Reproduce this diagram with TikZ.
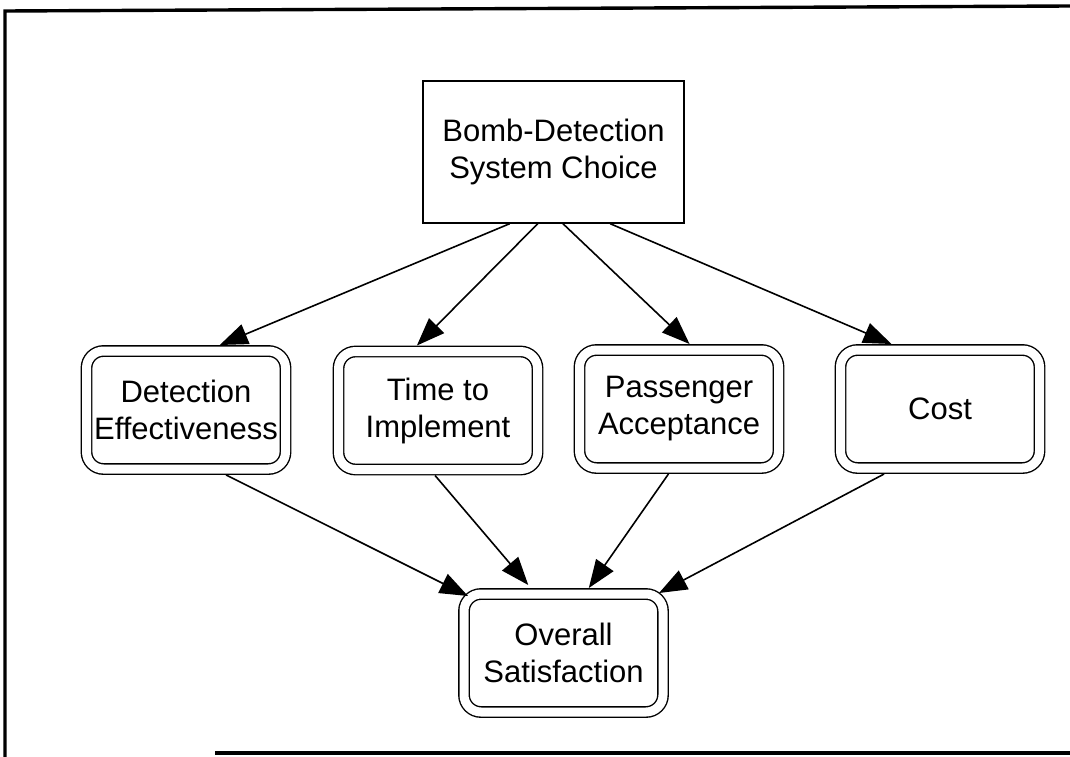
\documentclass[tikz,border=0pt]{standalone}
\usepackage{fontspec}
\setmainfont{Liberation Sans}
\usetikzlibrary{arrows.meta,calc}

\tikzset{
  lbl/.style={align=center, font=\fontsize{31}{37}\selectfont, inner sep=0pt},
  choicebox/.style={lbl, draw, line width=1.4pt, minimum width=261pt, minimum height=142pt, outer sep=0.7pt},
  dblbox/.style={lbl, draw, line width=1.4pt, double, double distance=9pt,
                 rounded corners=17pt, minimum width=199pt, minimum height=118pt, outer sep=6pt},
  link/.style={line width=1.6pt, -{Triangle[length=28pt,width=21pt]}},
  frameline/.style={line width=3.4pt}
}

\begin{document}
\begin{tikzpicture}[x=1pt, y=-1pt]
  \useasboundingbox (0,0) rectangle (1070,757);

  % page frame (open on the right, bottom line partial)
  \coordinate (fa) at (5,757);
  \coordinate (fb) at (5,11);
  \coordinate (fc) at (1070,6);
  \coordinate (fd) at (215,753);
  \coordinate (fe) at (1070,753);
  \draw[frameline] (fa) -- (fb) -- (fc);
  \draw[frameline] (fd) -- (fe);

  % decision node
  \node[choicebox] (top) at (553.5,152) {Bomb-Detection\\System Choice};

  % attribute nodes
  \node[dblbox] (det)  at (186,410)   {Detection\\Effectiveness};
  \node[dblbox] (time) at (438,410.5) {Time to\\Implement};
  \node[dblbox] (pass) at (679,409)   {Passenger\\Acceptance};
  \node[dblbox] (cost) at (940,409)   {Cost};

  % value node
  \node[dblbox] (ov) at (563.5,653) {Overall\\Satisfaction};

  % decision -> attributes
  \draw[link] ($(top.south west)!0.333!(top.south east)$) -- ($(det.north west)!0.66!(det.north east)$);
  \draw[link] ($(top.south west)!0.44!(top.south east)$)  -- ($(time.north west)!0.40!(time.north east)$);
  \draw[link] ($(top.south west)!0.536!(top.south east)$) -- ($(pass.north west)!0.55!(pass.north east)$);
  \draw[link] ($(top.south west)!0.716!(top.south east)$) -- ($(cost.north west)!0.27!(cost.north east)$);

  % attributes -> overall satisfaction
  \draw[link] ($(det.south west)!0.69!(det.south east)$)   -- ($(ov.north west)+(10,8)$);
  \draw[link] ($(time.south west)!0.486!(time.south east)$) -- ($(ov.north west)!0.333!(ov.north east)+(0,-3)$);
  \draw[link] ($(pass.south west)!0.45!(pass.south east)$)  -- ($(ov.north west)!0.62!(ov.north east)$);
  \draw[link] ($(cost.south west)!0.235!(cost.south east)$) -- ($(ov.north east)+(-10,5)$);
\end{tikzpicture}
\end{document}
